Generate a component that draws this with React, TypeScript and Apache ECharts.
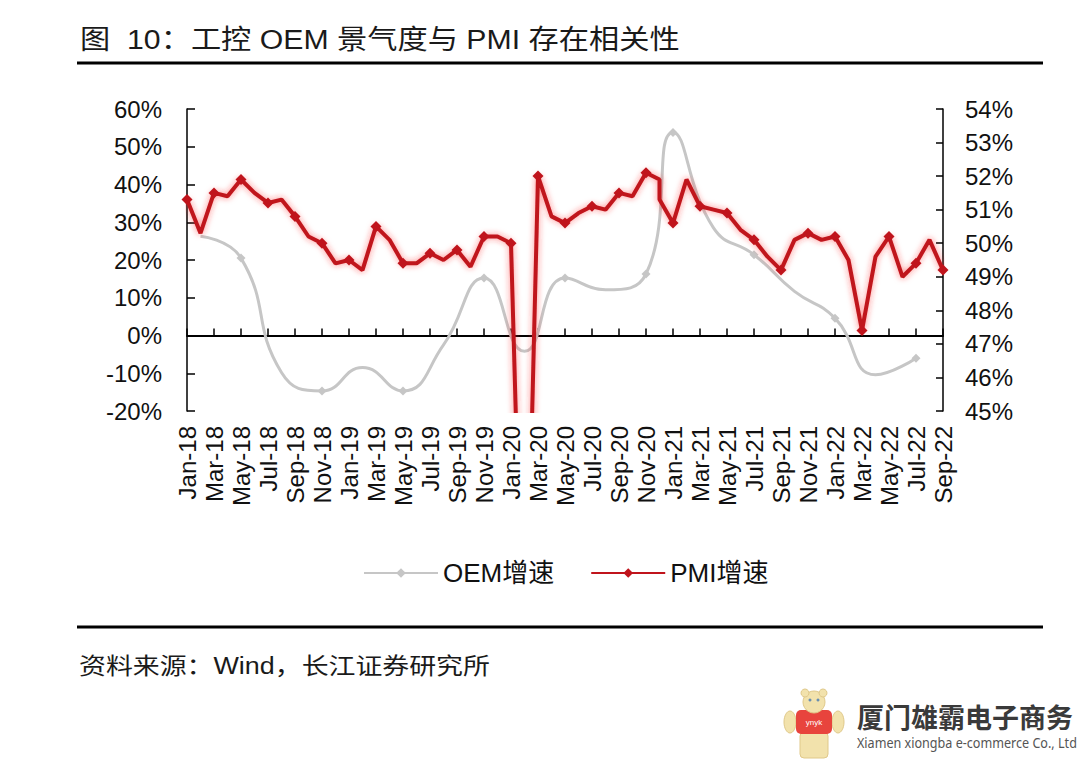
import React, { useEffect, useRef } from 'react';
import * as echarts from 'echarts';

const months = [
  'Jan-18', 'Feb-18', 'Mar-18', 'Apr-18', 'May-18', 'Jun-18', 'Jul-18', 'Aug-18', 'Sep-18', 'Oct-18', 'Nov-18', 'Dec-18',
  'Jan-19', 'Feb-19', 'Mar-19', 'Apr-19', 'May-19', 'Jun-19', 'Jul-19', 'Aug-19', 'Sep-19', 'Oct-19', 'Nov-19', 'Dec-19',
  'Jan-20', 'Feb-20', 'Mar-20', 'Apr-20', 'May-20', 'Jun-20', 'Jul-20', 'Aug-20', 'Sep-20', 'Oct-20', 'Nov-20', 'Dec-20',
  'Jan-21', 'Feb-21', 'Mar-21', 'Apr-21', 'May-21', 'Jun-21', 'Jul-21', 'Aug-21', 'Sep-21', 'Oct-21', 'Nov-21', 'Dec-21',
  'Jan-22', 'Feb-22', 'Mar-22', 'Apr-22', 'May-22', 'Jun-22', 'Jul-22', 'Aug-22', 'Sep-22',
];

// PMI (right axis, %), monthly readings as plotted
const pmiValues = [
  51.3, 50.3, 51.5, 51.4, 51.9, 51.5, 51.2, 51.3, 50.8, 50.2, 50.0, 49.4,
  49.5, 49.2, 50.5, 50.1, 49.4, 49.4, 49.7, 49.5, 49.8, 49.3, 50.2, 50.2,
  50.0, 35.7, 52.0, 50.8, 50.6, 50.9, 51.1, 51.0, 51.5, 51.4, 52.1, 51.9,
  51.3, 50.6, 51.9, 51.1, 51.0, 50.9, 50.4, 50.1, 49.6, 49.2, 50.1, 50.3,
  50.1, 50.2, 49.5, 47.4, 49.6, 50.2, 49.0, 49.4, 50.1, 49.2,
];
// category slot of each PMI reading (two readings share the Dec-20 slot in the source chart)
const pmiSlots = [
  0, 1, 2, 3, 4, 5, 6, 7, 8, 9, 10, 11,
  12, 13, 14, 15, 16, 17, 18, 19, 20, 21, 22, 23,
  24, 25, 26, 27, 28, 29, 30, 31, 32, 33, 34, 35,
  35, 36, 37, 38, 39, 40, 41, 42, 43, 44, 45, 46,
  47, 48, 49, 50, 51, 52, 53, 54, 55, 56,
];

// OEM growth (left axis, %), quarterly readings
const oemSlots = [1, 4, 7, 10, 13, 16, 19, 22, 25, 28, 31, 34, 36, 39, 42, 45, 48, 51, 54];
const oemValues = [26.3, 20.5, -9.8, -14.7, -8.5, -14.7, -2.5, 15.2, -4.2, 15.2, 12.1, 16.3, 53.8, 28.5, 21.4, 11.7, 4.6, -10.4, -6.0];

const leftTicks = { min: -20, max: 60, interval: 10 };
const rightTicks = { min: 45, max: 54, interval: 1 };

const titleText = '图  10：工控 OEM 景气度与 PMI 存在相关性';
const sourceText = '资料来源：Wind，长江证券研究所';
const seriesNames = ['OEM增速', 'PMI增速'];

const FONT = '"Liberation Sans", Arial, "Noto Sans CJK SC", sans-serif';

export default function App() {
  const ref = useRef<HTMLDivElement>(null);

  useEffect(() => {
    if (!ref.current) return;
    const chart = echarts.init(ref.current, null, { renderer: 'svg' });

    const red = '#C0141C';
    const gray = '#C6C6C6';

    const option: any = {
      animation: false,
      backgroundColor: '#ffffff',
      textStyle: { fontFamily: FONT },
      grid: { left: 187, right: 137, top: 109, bottom: 349, containLabel: false },
      legend: {
        left: 358,
        top: 555,
        itemWidth: 74,
        itemHeight: 12,
        itemGap: 36,
        textStyle: { fontSize: 26, color: '#111', fontFamily: FONT },
        data: seriesNames,
      },
      xAxis: [
        {
          type: 'category',
          data: months,
          boundaryGap: false,
          position: 'bottom',
          axisLine: { show: false, onZero: false },
          axisTick: { show: false },
          axisLabel: {
            interval: 1,
            rotate: 90,
            margin: 15,
            fontSize: 24,
            color: '#111',
            fontFamily: FONT,
          },
          splitLine: { show: false },
        },
        {
          type: 'category',
          data: months,
          boundaryGap: false,
          position: 'bottom',
          axisLine: { show: true, onZero: true, onZeroAxisIndex: 0, lineStyle: { color: '#000', width: 2 } },
          axisTick: { show: true, inside: true, interval: 1, length: 7, lineStyle: { color: '#000', width: 1.5 } },
          axisLabel: { show: false },
          splitLine: { show: false },
        },
      ],
      yAxis: [
        {
          type: 'value',
          min: leftTicks.min,
          max: leftTicks.max,
          interval: leftTicks.interval,
          position: 'left',
          axisLine: { show: true, lineStyle: { color: '#000', width: 1.5 } },
          axisTick: { show: true, inside: true, length: 8, lineStyle: { color: '#000', width: 1.5 } },
          axisLabel: { formatter: '{value}%', fontSize: 24, color: '#111', margin: 25, fontFamily: FONT },
          splitLine: { show: false },
        },
        {
          type: 'value',
          min: rightTicks.min,
          max: rightTicks.max,
          interval: rightTicks.interval,
          position: 'right',
          axisLine: { show: true, lineStyle: { color: '#000', width: 1.5 } },
          axisTick: { show: true, inside: true, length: 7, lineStyle: { color: '#000', width: 1.5 } },
          axisLabel: { formatter: '{value}%', fontSize: 24, color: '#111', margin: 22, fontFamily: FONT },
          splitLine: { show: false },
        },
      ],
      series: [
        {
          name: seriesNames[0],
          type: 'line',
          xAxisIndex: 0,
          yAxisIndex: 0,
          smooth: 0.5,
          data: oemSlots.map((s, i) => [s, oemValues[i]]),
          symbol: 'diamond',
          symbolSize: 9,
          itemStyle: { color: gray },
          lineStyle: { color: gray, width: 3 },
          z: 2,
        },
        {
          name: seriesNames[1],
          type: 'line',
          xAxisIndex: 0,
          yAxisIndex: 1,
          clip: true,
          data: pmiSlots.map((s, i) => [s, pmiValues[i]]),
          symbol: 'diamond',
          symbolSize: 11,
          itemStyle: { color: red },
          lineStyle: { color: red, width: 4, shadowBlur: 6, shadowColor: 'rgba(255,40,40,0.6)' },
          z: 3,
        },
      ],
      graphic: [
        {
          type: 'text',
          x: 80,
          y: 40,
          scaleX: 1.12,
          style: { text: titleText, fontSize: 27, fontFamily: FONT, fill: '#1a1a1a', verticalAlign: 'middle' },
        },
        { type: 'line', shape: { x1: 77, y1: 63, x2: 1043, y2: 63 }, style: { stroke: '#000', lineWidth: 3 } },
        { type: 'line', shape: { x1: 77, y1: 627, x2: 1043, y2: 627 }, style: { stroke: '#000', lineWidth: 3 } },
        {
          type: 'text',
          x: 79,
          y: 666,
          scaleX: 1.17,
          style: { text: sourceText, fontSize: 23, fontFamily: FONT, fill: '#1a1a1a', verticalAlign: 'middle' },
        },
        // watermark logo (simple bear figure)
        {
          type: 'group',
          children: [
            { type: 'ellipse', shape: { cx: 790, cy: 722, rx: 6, ry: 11 }, style: { fill: '#F2E2AC', stroke: '#E0C98A', lineWidth: 1 } },
            { type: 'ellipse', shape: { cx: 838, cy: 722, rx: 6, ry: 11 }, style: { fill: '#F2E2AC', stroke: '#E0C98A', lineWidth: 1 } },
            { type: 'rect', shape: { x: 800, y: 732, width: 28, height: 26, r: 4 }, style: { fill: '#F2E2AC', stroke: '#E0C98A', lineWidth: 1 } },
            { type: 'rect', shape: { x: 796, y: 710, width: 36, height: 24, r: 5 }, style: { fill: '#E8443D' } },
            { type: 'text', x: 814, y: 722, style: { text: 'ynyk', fontSize: 8, fill: '#fff', align: 'center', verticalAlign: 'middle', fontFamily: FONT } },
            { type: 'circle', shape: { cx: 814, cy: 702, r: 11 }, style: { fill: '#F2E2AC', stroke: '#E0C98A', lineWidth: 1 } },
            { type: 'circle', shape: { cx: 805, cy: 693, r: 4 }, style: { fill: '#F2E2AC', stroke: '#E0C98A', lineWidth: 1 } },
            { type: 'circle', shape: { cx: 823, cy: 693, r: 4 }, style: { fill: '#F2E2AC', stroke: '#E0C98A', lineWidth: 1 } },
            { type: 'circle', shape: { cx: 810, cy: 700, r: 1.5 }, style: { fill: '#6a8fb0' } },
            { type: 'circle', shape: { cx: 818, cy: 700, r: 1.5 }, style: { fill: '#6a8fb0' } },
          ],
        },
        {
          type: 'text',
          x: 857,
          y: 716,
          style: { text: '厦门雄霸电子商务', fontSize: 27, fontWeight: 'bold', fontFamily: '"Noto Sans CJK SC", sans-serif', fill: '#3a3a3a', verticalAlign: 'middle' },
        },
        {
          type: 'text',
          x: 857,
          y: 743,
          scaleX: 0.9,
          style: { text: 'Xiamen xiongba e-commerce Co., Ltd', fontSize: 14, fontFamily: '"Noto Sans", sans-serif', fill: '#555', verticalAlign: 'middle' },
        },
      ],
    };

    chart.setOption(option);
    return () => {
      chart.dispose();
    };
  }, []);

  return (
    <div
      ref={ref}
      style={{ position: 'fixed', left: 0, top: 0, width: 1080, height: 760, background: '#fff' }}
    />
  );
}
